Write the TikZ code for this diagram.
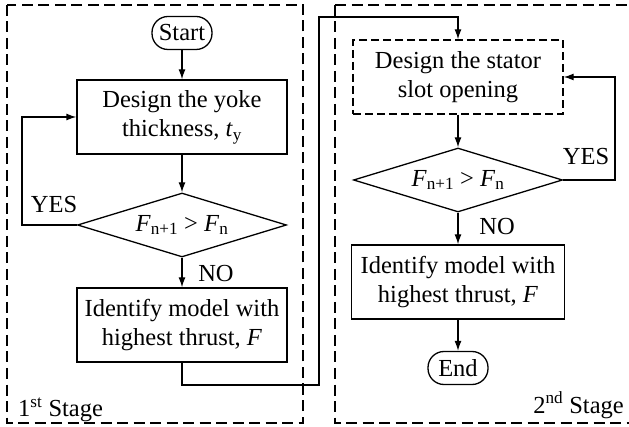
\documentclass[tikz,border=0pt]{standalone}
\usepackage{fontspec}
\setmainfont{Liberation Serif}
\usetikzlibrary{arrows.meta,shapes.geometric}
\begin{document}
\begin{tikzpicture}[x=1pt,y=-1pt,
  every node/.style={font=\fontsize{24.5}{29}\selectfont, inner sep=0pt},
  stage/.style={draw, line width=1.4pt, dash pattern=on 11pt off 5.5pt},
  proc/.style={draw, line width=1.3pt, minimum width=210pt, minimum height=74pt, align=center},
  dproc/.style={proc, dash pattern=on 8pt off 4pt},
  term/.style={draw, line width=1.3pt, rounded corners=16pt, minimum width=60pt, minimum height=33pt},
  dec/.style={draw, diamond, aspect=3.27, line width=1.3pt, minimum width=209pt, minimum height=64pt},
  conn/.style={line width=1.3pt, -{Latex[length=10pt,width=7pt]}},
  lbl/.style={anchor=base}]
\useasboundingbox (0,0) rectangle (629,427);
% stage frames
\draw[stage] (7,5) rectangle (303,423);
\draw[stage] (335,5) -- (335,423) -- (632,423);
\draw[stage] (335,5) -- (632,5);
% stage 1
\node[term] (start) at (182,33) {Start};
\node[proc] (b1) at (182,117) {Design the yoke\\thickness, \textit{t}\textsubscript{y}};
\node[dec] (d1) at (182,225) {\textit{F}\textsubscript{n+1} > \textit{F}\textsubscript{n}};
\node[proc] (b2) at (182,325) {Identify model with\\highest thrust, \textit{F}};
% stage 2
\node[dproc] (b3) at (458,77) {Design the stator\\slot opening};
\node[dec] (d2) at (458,180) {\textit{F}\textsubscript{n+1} > \textit{F}\textsubscript{n}};
\node[proc, minimum width=213pt] (b4) at (458,282) {Identify model with\\highest thrust, \textit{F}};
\node[term] (end) at (458,368) {End};
% coordinates
\coordinate (l1) at (22,225);
\coordinate (l2) at (22,117);
\coordinate (c1) at (182,385);
\coordinate (c2) at (319,385);
\coordinate (c3) at (319,17);
\coordinate (c4) at (458,17);
\coordinate (r1) at (615,180);
\coordinate (r2) at (615,77);
% connectors
\draw[conn] (start) -- (b1);
\draw[conn] (b1) -- (d1);
\draw[conn] (d1) -- (b2);
\draw[conn] (d1.west) -- (l1) -- (l2) -- (b1.west);
\draw[conn] (b2.south) -- (c1) -- (c2) -- (c3) -- (c4) -- (b3.north);
\draw[conn] (b3) -- (d2);
\draw[conn] (d2) -- (b4);
\draw[conn] (d2.east) -- (r1) -- (r2) -- (b3.east);
\draw[conn] (b4) -- (end);
% labels
\node[lbl] (yes1) at (54,213) {YES};
\node[lbl] (no1) at (216,282) {NO};
\node[lbl] (yes2) at (586,165) {YES};
\node[lbl] (no2) at (497,235) {NO};
\node[lbl, anchor=base west] (s1) at (18,417) {1\textsuperscript{st} Stage};
\node[lbl, anchor=base east] (s2) at (624,413) {2\textsuperscript{nd} Stage};
\end{tikzpicture}
\end{document}
